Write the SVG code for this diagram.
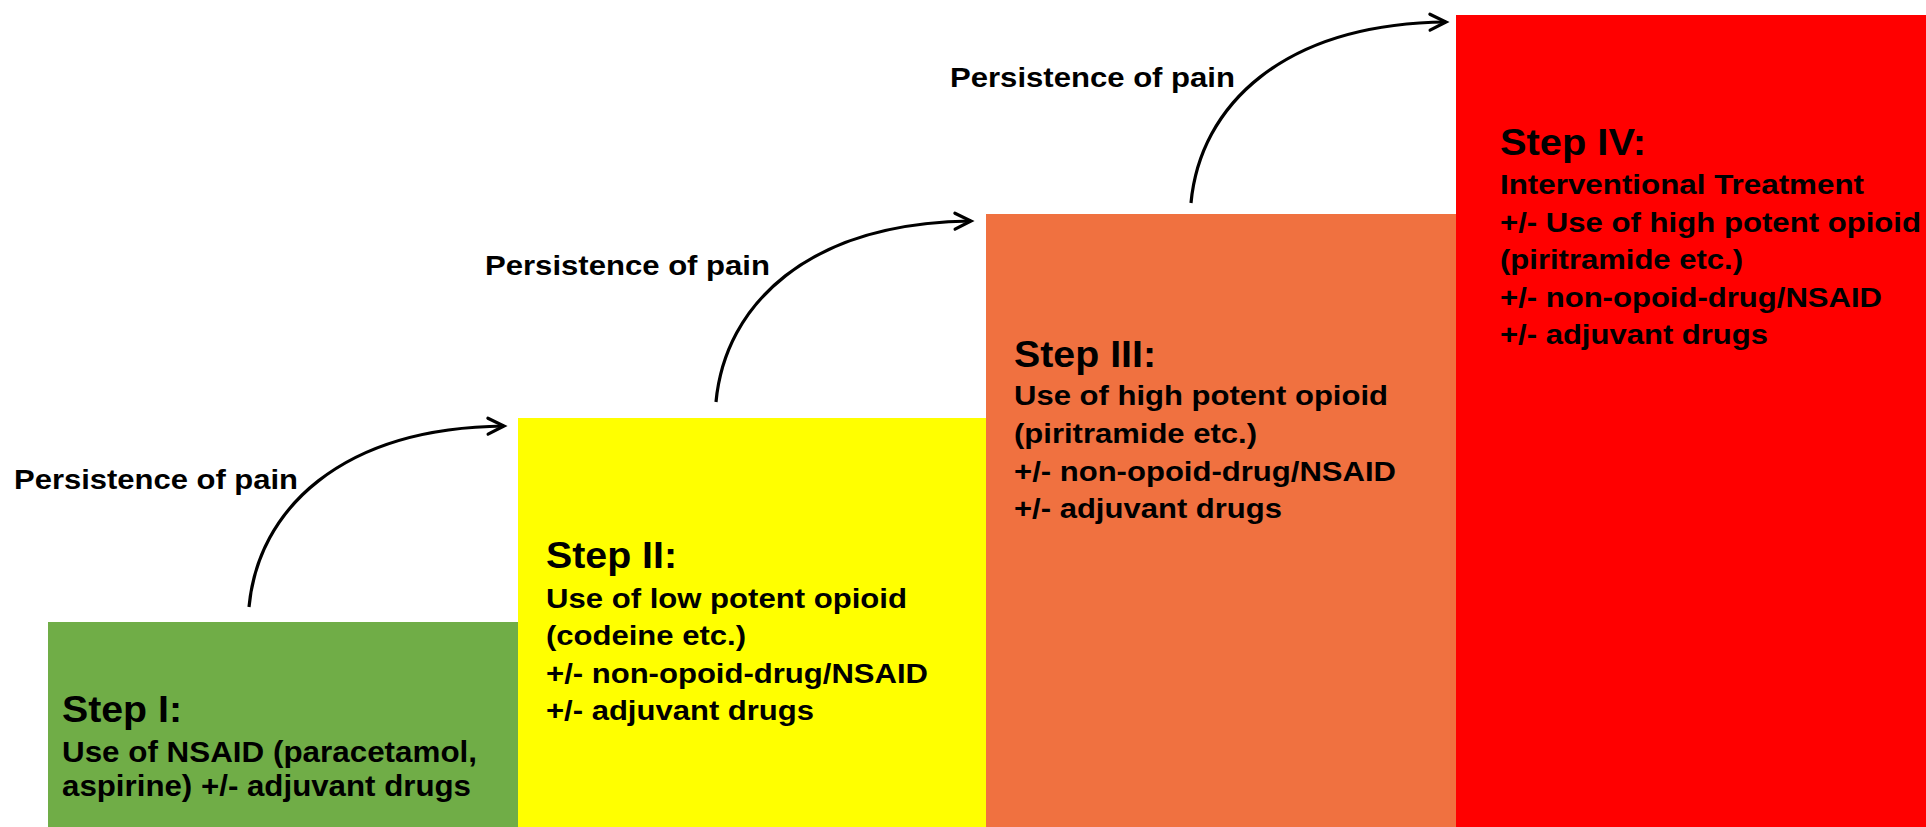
<svg xmlns="http://www.w3.org/2000/svg" width="1926" height="827" viewBox="0 0 1926 827">
<style>
text{font-family:"Liberation Sans",Arial,sans-serif;font-weight:bold;fill:#000}
.ttl{font-size:36px}
.t1{font-size:37px}
.b{font-size:27px}
.b1{font-size:30px}
.lbl{font-size:28px}
.conn{fill:none;stroke:#000;stroke-width:3.2;marker-end:url(#chev)}
</style>
<defs>
<marker id="chev" markerUnits="userSpaceOnUse" orient="auto" overflow="visible" refX="0" refY="0" markerWidth="1" markerHeight="1">
<path d="M-16,-8 L0,0 L-16,8" fill="none" stroke="#000" stroke-width="3.2" stroke-linecap="round"/>
</marker>
</defs>
<rect width="1926" height="827" fill="#fff"/>
<g id="step1">
<rect x="48" y="622" width="470" height="205" fill="#70AD47"/>
<text class="t1" x="62" y="722" textLength="120" lengthAdjust="spacingAndGlyphs">Step I:</text>
<text class="b1" x="62" y="762" textLength="415" lengthAdjust="spacingAndGlyphs">Use of NSAID (paracetamol,</text>
<text class="b1" x="62" y="796" textLength="409" lengthAdjust="spacingAndGlyphs">aspirine) +/- adjuvant drugs</text>
</g>
<g id="step2">
<rect x="518" y="418" width="468" height="409" fill="#FFFF00"/>
<text class="ttl" x="546" y="568" textLength="131" lengthAdjust="spacingAndGlyphs">Step II:</text>
<text class="b" x="546" y="608" textLength="361" lengthAdjust="spacingAndGlyphs">Use of low potent opioid</text>
<text class="b" x="546" y="645" textLength="200" lengthAdjust="spacingAndGlyphs">(codeine etc.)</text>
<text class="b" x="546" y="683" textLength="382" lengthAdjust="spacingAndGlyphs">+/- non-opoid-drug/NSAID</text>
<text class="b" x="546" y="720" textLength="268" lengthAdjust="spacingAndGlyphs">+/- adjuvant drugs</text>
</g>
<g id="step3">
<rect x="986" y="214" width="470" height="613" fill="#F07140"/>
<text class="ttl" x="1014" y="367" textLength="142" lengthAdjust="spacingAndGlyphs">Step III:</text>
<text class="b" x="1014" y="405" textLength="374" lengthAdjust="spacingAndGlyphs">Use of high potent opioid</text>
<text class="b" x="1014" y="443" textLength="243" lengthAdjust="spacingAndGlyphs">(piritramide etc.)</text>
<text class="b" x="1014" y="481" textLength="382" lengthAdjust="spacingAndGlyphs">+/- non-opoid-drug/NSAID</text>
<text class="b" x="1014" y="518" textLength="268" lengthAdjust="spacingAndGlyphs">+/- adjuvant drugs</text>
</g>
<g id="step4">
<rect x="1456" y="15" width="470" height="812" fill="#FF0000"/>
<text class="ttl" x="1500" y="155" textLength="146" lengthAdjust="spacingAndGlyphs">Step IV:</text>
<text class="b" x="1500" y="194" textLength="364" lengthAdjust="spacingAndGlyphs">Interventional Treatment</text>
<text class="b" x="1500" y="231.5" textLength="421" lengthAdjust="spacingAndGlyphs">+/- Use of high potent opioid</text>
<text class="b" x="1500" y="269" textLength="243" lengthAdjust="spacingAndGlyphs">(piritramide etc.)</text>
<text class="b" x="1500" y="306.5" textLength="382" lengthAdjust="spacingAndGlyphs">+/- non-opoid-drug/NSAID</text>
<text class="b" x="1500" y="344" textLength="268" lengthAdjust="spacingAndGlyphs">+/- adjuvant drugs</text>
</g>
<g id="connectors">
<path class="conn" d="M249,607 C258,510 340,428 504,426"/>
<path class="conn" d="M716,402 C725,305 807,223 971,221"/>
<path class="conn" d="M1191,203 C1200,106 1282,24 1446,22"/>
<text class="lbl" x="14" y="489" textLength="284" lengthAdjust="spacingAndGlyphs">Persistence of pain</text>
<text class="lbl" x="485" y="275" textLength="285" lengthAdjust="spacingAndGlyphs">Persistence of pain</text>
<text class="lbl" x="950" y="87" textLength="285" lengthAdjust="spacingAndGlyphs">Persistence of pain</text>
</g>
</svg>
